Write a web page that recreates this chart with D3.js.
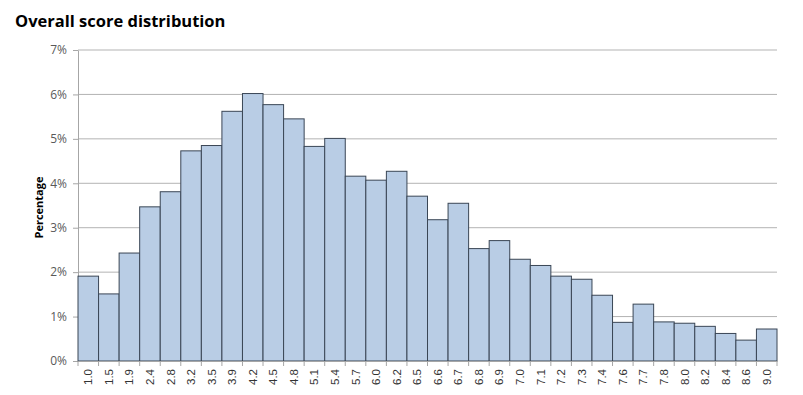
<!DOCTYPE html>
<html>
<head>
<meta charset="utf-8">
<script src="https://cdn.jsdelivr.net/npm/d3@7"></script>
<style>
  body { margin: 0; background: #fff; }
  svg { display: block; }
</style>
</head>
<body>
<svg id="chart"></svg>
<script>
// score buckets and share of respondents (%)
const categories = ['1.0', '1.5', '1.9', '2.4', '2.8', '3.2', '3.5', '3.9', '4.2', '4.5',
  '4.8', '5.1', '5.4', '5.7', '6.0', '6.2', '6.5', '6.6', '6.7', '6.8', '6.9', '7.0',
  '7.1', '7.2', '7.3', '7.4', '7.6', '7.7', '7.8', '8.0', '8.2', '8.4', '8.6', '9.0'];
const percentages = [1.91, 1.51, 2.43, 3.47, 3.81, 4.73, 4.85, 5.62, 6.02, 5.77,
  5.45, 4.83, 5.01, 4.16, 4.07, 4.27, 3.71, 3.18, 3.55, 2.53, 2.71, 2.29,
  2.15, 1.91, 1.84, 1.48, 0.87, 1.28, 0.88, 0.85, 0.78, 0.62, 0.47, 0.72];
const yTicks = [0, 1, 2, 3, 4, 5, 6, 7];

const width = 803, height = 395;
const margin = { top: 50, right: 26, bottom: 34, left: 78 };

const svg = d3.select('#chart')
  .attr('width', width)
  .attr('height', height);

const x = d3.scaleBand()
  .domain(categories)
  .range([margin.left, width - margin.right])
  .padding(0);

const y = d3.scaleLinear()
  .domain([0, 7])
  .range([height - margin.bottom, margin.top]);

// title
svg.append('text')
  .attr('x', 15)
  .attr('y', 27)
  .style('font-family', '"Open Sans", sans-serif')
  .style('font-weight', 'bold')
  .style('font-size', '16.5px')
  .attr('fill', '#000')
  .text('Overall score distribution');

// gridlines
svg.append('g')
  .selectAll('line')
  .data(yTicks.slice(1))
  .join('line')
  .attr('x1', margin.left)
  .attr('x2', width - margin.right)
  .attr('y1', d => y(d))
  .attr('y2', d => y(d))
  .attr('stroke', '#b3b3b3')
  .attr('stroke-width', 1);

// y axis
const yAxis = svg.append('g')
  .attr('transform', `translate(${margin.left},0)`)
  .call(d3.axisLeft(y).tickValues(yTicks).tickFormat(d => d + '%').tickSize(5).tickSizeOuter(0));
yAxis.select('.domain').attr('stroke', '#a6a6a6');
yAxis.selectAll('.tick line').attr('stroke', '#a6a6a6');
yAxis.selectAll('.tick text')
  .attr('x', -11)
  .attr('fill', '#595959')
  .style('font-family', '"Open Sans", sans-serif')
  .style('font-size', '12px');

// bars
svg.append('g')
  .selectAll('rect')
  .data(percentages)
  .join('rect')
  .attr('x', (d, i) => x(categories[i]))
  .attr('y', d => y(d))
  .attr('width', x.bandwidth())
  .attr('height', d => y(0) - y(d))
  .attr('fill', '#b9cde5')
  .attr('stroke', '#3a4655')
  .attr('stroke-width', 1);

// x axis
const xAxis = svg.append('g')
  .attr('transform', `translate(0,${y(0)})`)
  .call(d3.axisBottom(x).tickSize(0).tickSizeOuter(0));
xAxis.select('.domain').attr('stroke', '#a6a6a6');
xAxis.selectAll('.tick text')
  .attr('transform', 'rotate(-90)')
  .attr('x', -8)
  .attr('y', 0)
  .attr('dy', '0.35em')
  .style('text-anchor', 'end')
  .attr('fill', '#333')
  .style('font-family', '"Liberation Sans", Arial, sans-serif')
  .style('font-size', '11.5px');

// tick marks at category boundaries
svg.append('g')
  .selectAll('line')
  .data(categories.concat(['end']))
  .join('line')
  .attr('x1', (d, i) => i < categories.length ? x(d) : x.range()[1])
  .attr('x2', (d, i) => i < categories.length ? x(d) : x.range()[1])
  .attr('y1', y(0))
  .attr('y2', y(0) + 5)
  .attr('stroke', '#a6a6a6');

// y axis title
svg.append('text')
  .attr('transform', `translate(43,${(margin.top + height - margin.bottom) / 2 + 2}) rotate(-90)`)
  .style('text-anchor', 'middle')
  .style('font-family', '"Open Sans", sans-serif')
  .style('font-weight', 'bold')
  .style('font-size', '11px')
  .attr('fill', '#000')
  .text('Percentage');
</script>
</body>
</html>
